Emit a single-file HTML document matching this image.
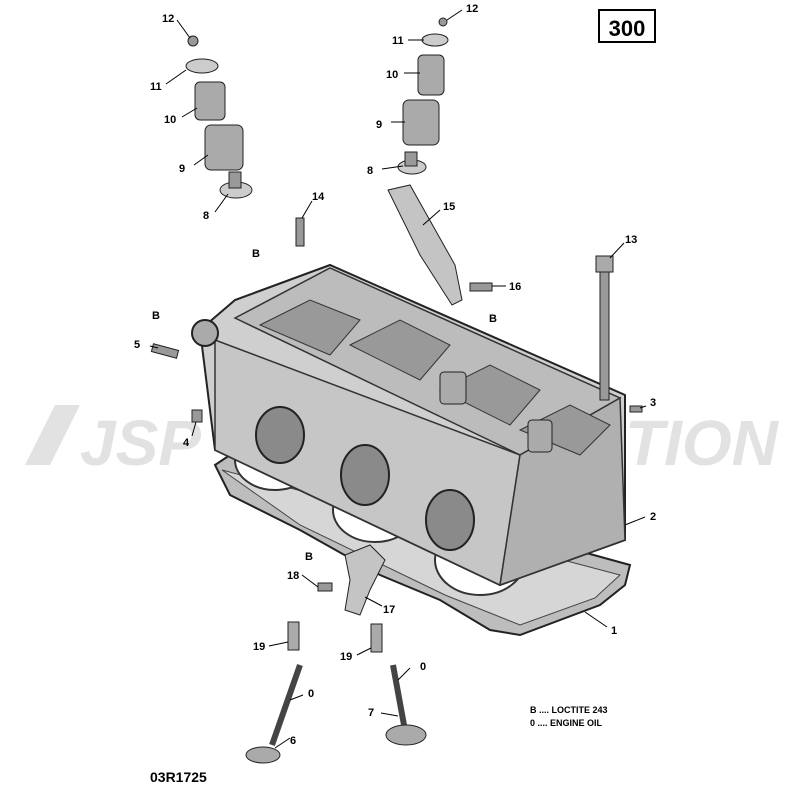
<!DOCTYPE html>
<html><head><style>
html,body{margin:0;padding:0;background:#fff;}
svg{display:block;}
text{font-family:"Liberation Sans",sans-serif;font-weight:bold;fill:#000;}
</style></head><body>
<svg width="800" height="800" viewBox="0 0 800 800" xmlns="http://www.w3.org/2000/svg">
<!-- watermark -->
<text x="80" y="465" font-size="64" font-style="italic" style="fill:#e2e2e2">JSP</text>
<text x="625" y="465" font-size="64" font-style="italic" style="fill:#e2e2e2">TION</text>
<polygon points="25,465 55,405 80,405 50,465" fill="#e2e2e2"/>

<!-- 300 box -->
<rect x="599" y="10" width="56" height="32" fill="#fff" stroke="#000" stroke-width="2"/>
<text x="627" y="36" font-size="22" text-anchor="middle">300</text>

<!-- gasket -->
<path d="M215,465 L230,455 L630,565 L625,585 L600,605 L520,635 L490,630 L440,600 L380,575 L300,530 L230,495 Z" fill="#bdbdbd" stroke="#222" stroke-width="2"/>
<path d="M222,470 L620,575 L595,598 L520,625 L445,595 L300,525 Z" fill="#d6d6d6" stroke="#444"/>
<ellipse cx="275" cy="460" rx="40" ry="30" fill="#fff" stroke="#333" stroke-width="2"/>
<ellipse cx="375" cy="510" rx="42" ry="32" fill="#fff" stroke="#333" stroke-width="2"/>
<ellipse cx="480" cy="560" rx="45" ry="35" fill="#fff" stroke="#333" stroke-width="2"/>

<!-- head body -->
<polygon points="200,330 235,300 330,265 625,395 625,540 500,585 215,450" fill="#cfcfcf" stroke="#222" stroke-width="2"/>
<polygon points="235,318 330,268 620,398 520,455" fill="#bcbcbc" stroke="#333" stroke-width="1.5"/>
<polygon points="215,340 520,455 500,585 215,450" fill="#c6c6c6" stroke="#333" stroke-width="1.5"/>
<polygon points="520,455 620,398 625,540 500,585" fill="#b0b0b0" stroke="#333" stroke-width="1.5"/>
<path d="M260,325 L310,300 L360,320 L330,355 Z" fill="#999" stroke="#333"/>
<path d="M350,345 L400,320 L450,345 L420,380 Z" fill="#999" stroke="#333"/>
<path d="M440,390 L490,365 L540,390 L510,425 Z" fill="#999" stroke="#333"/>
<path d="M520,430 L570,405 L610,425 L580,455 Z" fill="#999" stroke="#333"/>
<rect x="440" y="372" width="26" height="32" rx="4" fill="#aaa" stroke="#222"/>
<rect x="528" y="420" width="24" height="32" rx="4" fill="#aaa" stroke="#222"/>
<ellipse cx="280" cy="435" rx="24" ry="28" fill="#8a8a8a" stroke="#222" stroke-width="2"/>
<ellipse cx="365" cy="475" rx="24" ry="30" fill="#8a8a8a" stroke="#222" stroke-width="2"/>
<ellipse cx="450" cy="520" rx="24" ry="30" fill="#8a8a8a" stroke="#222" stroke-width="2"/>
<circle cx="205" cy="333" r="13" fill="#aaa" stroke="#222" stroke-width="2"/>

<!-- left valve stack -->
<circle cx="193" cy="41" r="5" fill="#999" stroke="#222"/>
<ellipse cx="202" cy="66" rx="16" ry="7" fill="#ccc" stroke="#222"/>
<rect x="195" y="82" width="30" height="38" rx="5" fill="#aaa" stroke="#222"/>
<rect x="205" y="125" width="38" height="45" rx="6" fill="#aaa" stroke="#222"/>
<ellipse cx="236" cy="190" rx="16" ry="8" fill="#ccc" stroke="#222"/>
<rect x="229" y="172" width="12" height="16" fill="#999" stroke="#222"/>
<!-- right valve stack -->
<circle cx="443" cy="22" r="4" fill="#999" stroke="#222"/>
<ellipse cx="435" cy="40" rx="13" ry="6" fill="#ccc" stroke="#222"/>
<rect x="418" y="55" width="26" height="40" rx="5" fill="#aaa" stroke="#222"/>
<rect x="403" y="100" width="36" height="45" rx="6" fill="#aaa" stroke="#222"/>
<ellipse cx="412" cy="167" rx="14" ry="7" fill="#ccc" stroke="#222"/>
<rect x="405" y="152" width="12" height="14" fill="#999" stroke="#222"/>
<path d="M388,190 L410,185 L455,265 L462,300 L452,305 L420,255 Z" fill="#c4c4c4" stroke="#222"/>
<rect x="600" y="270" width="9" height="130" fill="#999" stroke="#222"/>
<rect x="596" y="256" width="17" height="16" fill="#aaa" stroke="#222"/>
<rect x="296" y="218" width="8" height="28" fill="#999" stroke="#222"/>
<rect x="470" y="283" width="22" height="8" fill="#999" stroke="#222"/>
<rect x="152" y="347" width="26" height="8" fill="#999" stroke="#222" transform="rotate(15 165 351)"/>
<rect x="192" y="410" width="10" height="12" fill="#999" stroke="#222"/>
<rect x="630" y="406" width="12" height="6" fill="#999" stroke="#222"/>
<path d="M345,555 L370,545 L385,560 L370,590 L360,615 L345,610 L350,580 Z" fill="#c4c4c4" stroke="#222"/>
<rect x="318" y="583" width="14" height="8" fill="#999" stroke="#222"/>
<rect x="288" y="622" width="11" height="28" fill="#aaa" stroke="#222"/>
<rect x="371" y="624" width="11" height="28" fill="#aaa" stroke="#222"/>
<line x1="300" y1="665" x2="272" y2="745" stroke="#444" stroke-width="6"/>
<ellipse cx="263" cy="755" rx="17" ry="8" fill="#aaa" stroke="#222"/>
<line x1="393" y1="665" x2="404" y2="725" stroke="#444" stroke-width="6"/>
<ellipse cx="406" cy="735" rx="20" ry="10" fill="#aaa" stroke="#222"/>

<g stroke="#000" stroke-width="1" fill="none">
<line x1="177" y1="20" x2="190" y2="38"/><line x1="166" y1="84" x2="186" y2="70"/>
<line x1="182" y1="117" x2="197" y2="108"/><line x1="194" y1="165" x2="208" y2="155"/>
<line x1="215" y1="212" x2="228" y2="194"/>
<line x1="462" y1="10" x2="447" y2="20"/><line x1="408" y1="40" x2="424" y2="40"/>
<line x1="404" y1="73" x2="420" y2="73"/><line x1="391" y1="122" x2="405" y2="122"/>
<line x1="382" y1="169" x2="403" y2="166"/>
<line x1="312" y1="201" x2="302" y2="218"/><line x1="440" y1="210" x2="423" y2="225"/>
<line x1="624" y1="243" x2="610" y2="258"/><line x1="506" y1="286" x2="492" y2="286"/>
<line x1="150" y1="346" x2="158" y2="348"/><line x1="646" y1="406" x2="640" y2="408"/>
<line x1="192" y1="436" x2="196" y2="422"/><line x1="645" y1="517" x2="625" y2="525"/>
<line x1="607" y1="627" x2="585" y2="612"/><line x1="382" y1="606" x2="365" y2="597"/>
<line x1="302" y1="575" x2="318" y2="587"/><line x1="269" y1="646" x2="288" y2="642"/>
<line x1="357" y1="655" x2="371" y2="648"/><line x1="303" y1="695" x2="290" y2="700"/>
<line x1="410" y1="668" x2="398" y2="680"/><line x1="381" y1="713" x2="398" y2="716"/>
<line x1="290" y1="738" x2="275" y2="748"/>
</g>

<g font-size="11">
<text x="162" y="22">12</text><text x="150" y="90">11</text><text x="164" y="123">10</text>
<text x="179" y="172">9</text><text x="203" y="219">8</text>
<text x="466" y="12">12</text><text x="392" y="44">11</text><text x="386" y="78">10</text>
<text x="376" y="128">9</text><text x="367" y="174">8</text>
<text x="312" y="200">14</text><text x="443" y="210">15</text><text x="625" y="243">13</text>
<text x="509" y="290">16</text><text x="489" y="322">B</text><text x="252" y="257">B</text>
<text x="152" y="319">B</text><text x="134" y="348">5</text><text x="650" y="406">3</text>
<text x="183" y="446">4</text><text x="650" y="520">2</text><text x="611" y="634">1</text>
<text x="383" y="613">17</text><text x="287" y="579">18</text><text x="305" y="560">B</text>
<text x="253" y="650">19</text><text x="340" y="660">19</text>
<text x="308" y="697">0</text><text x="420" y="670">0</text>
<text x="368" y="716">7</text><text x="290" y="744">6</text>
</g>
<g font-size="9">
<text x="530" y="713">B .... LOCTITE 243</text>
<text x="530" y="726">0 .... ENGINE OIL</text>
</g>
<text x="150" y="782" font-size="14" font-weight="normal">03R1725</text>
</svg>
</body></html>
